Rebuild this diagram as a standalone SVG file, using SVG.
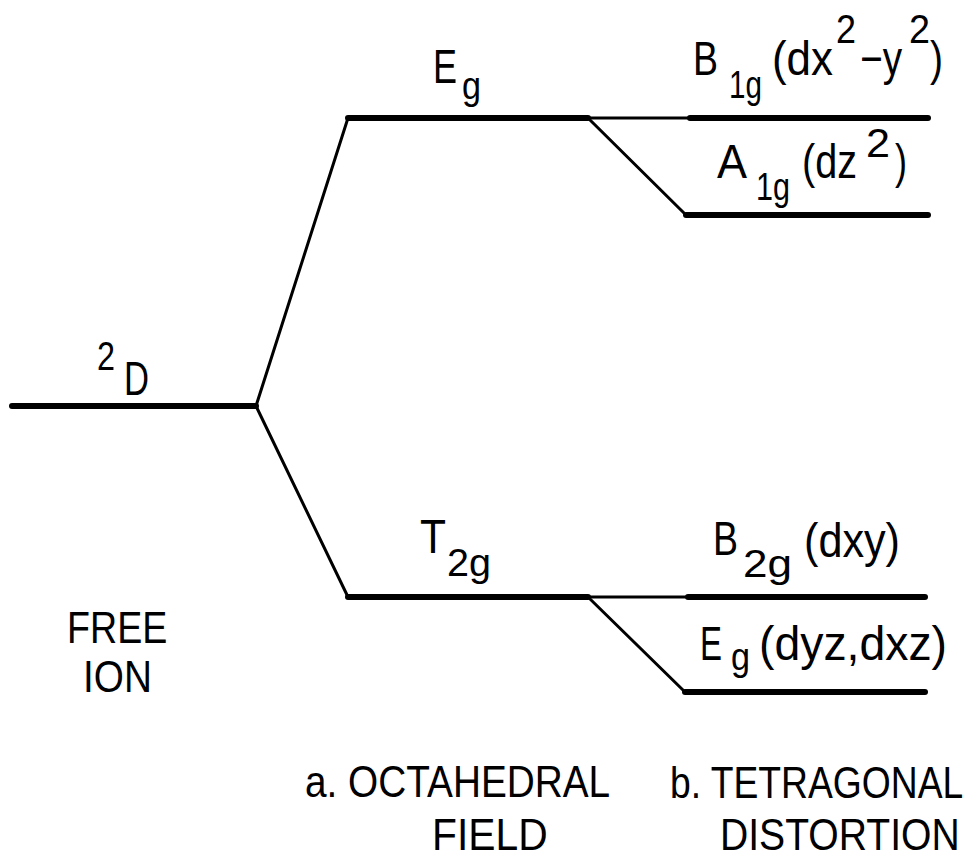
<svg xmlns="http://www.w3.org/2000/svg" width="980" height="859" viewBox="0 0 980 859">
<style>
.lvl{stroke:#000;stroke-width:6;stroke-linecap:round;fill:none}
.con{stroke:#000;stroke-width:3;stroke-linecap:round;fill:none}
text{font-family:"Liberation Sans","DejaVu Sans",sans-serif;fill:#000}
.m{font-size:48px}
.s{font-size:38px}
.p{font-size:40px}
.c{font-size:45px}
</style>
<rect width="980" height="859" fill="#fff"/>
<g id="connectors">
<line class="con" x1="256" y1="406" x2="348" y2="118"/>
<line class="con" x1="256" y1="406" x2="348" y2="597"/>
<line class="con" x1="588" y1="118" x2="690" y2="118"/>
<line class="con" x1="588" y1="118" x2="686" y2="215"/>
<line class="con" x1="588" y1="597" x2="688" y2="597"/>
<line class="con" x1="588" y1="597" x2="685" y2="692"/>
</g>
<g id="free-ion">
<line class="lvl" x1="12" y1="406" x2="256" y2="406"/>
<text class="p" x="97" y="370" textLength="18" lengthAdjust="spacingAndGlyphs">2</text>
<text class="m" x="124" y="395" textLength="25" lengthAdjust="spacingAndGlyphs">D</text>
</g>
<g id="oct-eg">
<line class="lvl" x1="348" y1="118" x2="588" y2="118"/>
<text class="m" x="433" y="83" textLength="24" lengthAdjust="spacingAndGlyphs">E</text>
<text class="s" x="462" y="99" textLength="19" lengthAdjust="spacingAndGlyphs">g</text>
</g>
<g id="oct-t2g">
<line class="lvl" x1="348" y1="597" x2="588" y2="597"/>
<text class="m" x="420" y="553" textLength="26" lengthAdjust="spacingAndGlyphs">T</text>
<text class="s" x="447" y="576" textLength="44" lengthAdjust="spacingAndGlyphs">2g</text>
</g>
<g id="tet-b1g">
<line class="lvl" x1="690" y1="118" x2="928" y2="118"/>
<text class="m" x="693" y="75" textLength="25" lengthAdjust="spacingAndGlyphs">B</text>
<text class="s" x="729" y="98" textLength="33" lengthAdjust="spacingAndGlyphs">1g</text>
<text class="m" x="772" y="75" textLength="61" lengthAdjust="spacingAndGlyphs">(dx</text>
<text class="p" x="836" y="43" textLength="20" lengthAdjust="spacingAndGlyphs">2</text>
<text class="m" x="860" y="75" textLength="42" lengthAdjust="spacingAndGlyphs">−y</text>
<text class="p" x="909" y="43" textLength="21" lengthAdjust="spacingAndGlyphs">2</text>
<text class="m" x="930" y="75" textLength="13" lengthAdjust="spacingAndGlyphs">)</text>
</g>
<g id="tet-a1g">
<line class="lvl" x1="686" y1="215" x2="928" y2="215"/>
<text class="m" x="717" y="178" textLength="30" lengthAdjust="spacingAndGlyphs">A</text>
<text class="s" x="756" y="200" textLength="34" lengthAdjust="spacingAndGlyphs">1g</text>
<text class="m" x="802" y="178" textLength="55" lengthAdjust="spacingAndGlyphs">(dz</text>
<text class="p" x="866" y="157" textLength="24" lengthAdjust="spacingAndGlyphs">2</text>
<text class="m" x="895" y="178" textLength="12" lengthAdjust="spacingAndGlyphs">)</text>
</g>
<g id="tet-b2g">
<line class="lvl" x1="688" y1="597" x2="925" y2="597"/>
<text class="m" x="713" y="555" textLength="25" lengthAdjust="spacingAndGlyphs">B</text>
<text class="s" x="743" y="577" textLength="49" lengthAdjust="spacingAndGlyphs">2g</text>
<text class="m" x="804" y="557" textLength="96" lengthAdjust="spacingAndGlyphs">(dxy)</text>
</g>
<g id="tet-eg">
<line class="lvl" x1="685" y1="692" x2="925" y2="692"/>
<text class="m" x="700" y="660" textLength="22" lengthAdjust="spacingAndGlyphs">E</text>
<text class="s" x="731" y="670" textLength="19" lengthAdjust="spacingAndGlyphs">g</text>
<text class="m" x="759" y="660" textLength="188" lengthAdjust="spacingAndGlyphs">(dyz,dxz)</text>
</g>
<g id="captions">
<g transform="translate(67,643) scale(0.85,1)"><text class="c" x="0" y="0" textLength="118" lengthAdjust="spacingAndGlyphs">FREE</text></g>
<g transform="translate(83,692) scale(0.85,1)"><text class="c" x="0" y="0" textLength="81" lengthAdjust="spacingAndGlyphs">ION</text></g>
<g transform="translate(305,797) scale(0.85,1)"><text class="c" x="0" y="0" textLength="359" lengthAdjust="spacingAndGlyphs">a. OCTAHEDRAL</text></g>
<g transform="translate(432,850) scale(0.85,1)"><text class="c" x="0" y="0" textLength="136" lengthAdjust="spacingAndGlyphs">FIELD</text></g>
<g transform="translate(670,798) scale(0.85,1)"><text class="c" x="0" y="0" textLength="345" lengthAdjust="spacingAndGlyphs">b. TETRAGONAL</text></g>
<g transform="translate(720,850) scale(0.85,1)"><text class="c" x="0" y="0" textLength="282" lengthAdjust="spacingAndGlyphs">DISTORTION</text></g>
</g>
</svg>
